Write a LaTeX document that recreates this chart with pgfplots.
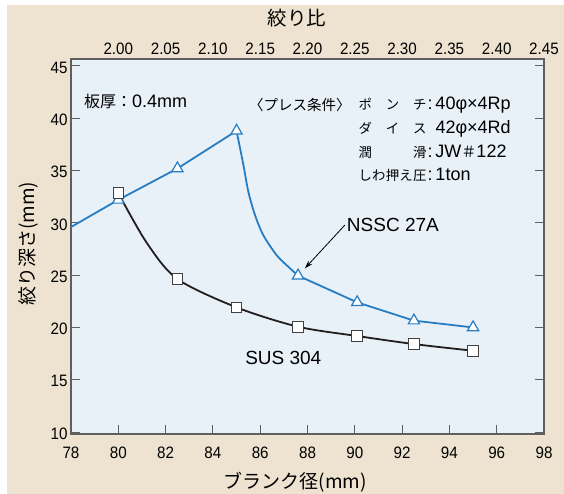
\documentclass[border=0pt]{standalone}
\usepackage{pgfplots}
\pgfplotsset{compat=1.18}
\usepackage{fontspec}
\usetikzlibrary{arrows.meta}
\setmainfont{Liberation Sans}
\newfontfamily\jp{Noto Sans CJK JP}
\newfontfamily\tickfont{Liberation Sans}[FakeStretch=0.92]
\definecolor{bgbeige}{RGB}{237,227,208}
\definecolor{plotbg}{RGB}{232,240,248}
\definecolor{nsblue}{RGB}{38,125,195}
\definecolor{axgray}{RGB}{95,95,95}
\definecolor{susblack}{RGB}{35,30,30}

\newcommand{\tabjp}{\jp\fontsize{13.4}{16}\selectfont}
\newcommand{\tablat}{\fontsize{18}{20}\selectfont}

\begin{document}
\begin{tikzpicture}[x=1pt,y=1pt]
\fill[white] (-71,-60) rectangle (493,434);
\fill[bgbeige] (-64,-60) rectangle (493,429);
\useasboundingbox (-71,-60) rectangle (493,434);

% top axis: drawing ratio
\begin{axis}[
  at={(0,0)}, anchor=south west,
  width=473pt, height=375pt, scale only axis,
  xmin=1.95, xmax=2.45, ymin=0, ymax=1,
  axis x line*=top, axis y line=none,
  axis line style={axgray, line width=1.2pt},
  tick style={axgray, line width=1pt},
  tick align=inside, major tick length=9pt,
  xtick={2.00,2.05,2.10,2.15,2.20,2.25,2.30,2.35,2.40,2.45},
  xticklabel style={font=\tickfont\fontsize{16.5}{18}\selectfont, yshift=1pt,
    /pgf/number format/.cd, fixed, fixed zerofill, precision=2},
  /pgf/number format/assume math mode=true,
  clip=false,
]
\addplot[draw=none] coordinates {(2.0,0.5)};
\node at (rel axis cs:0.478,1.109) {\jp\fontsize{19.5}{21}\selectfont 絞り比};
\end{axis}

% main axis
\begin{axis}[
  at={(0,0)}, anchor=south west,
  width=473pt, height=375pt, scale only axis,
  xmin=78, xmax=98, ymin=9.81, ymax=45.67,
  axis background/.style={fill=plotbg},
  axis line style={axgray, line width=1.2pt},
  tick style={axgray, line width=1pt},
  tick align=inside, major tick length=9pt,
  xtick={78,80,...,98}, ytick={10,15,...,45},
  xtick pos=bottom, ytick pos=both, yticklabel pos=left,
  ticklabel style={font=\tickfont\fontsize{16.5}{18}\selectfont},
  xticklabel style={yshift=-9pt},
  yticklabel style={yshift=-1.5pt},
  /pgf/number format/assume math mode=true,
  clip=false,
]
% NSSC 27A
\addplot[nsblue, line width=1.8pt] coordinates {(78,29.6) (80,32.2) (82.5,35.2) (85,38.8)};
\addplot[nsblue, line width=1.8pt, smooth, tension=0.5] coordinates {
  (85,38.8) (85.29,35.53) (85.5,32.97) (85.78,30.75) (86.13,28.83)
  (86.69,26.92) (87.19,25.8) (87.6,24.95)};
\addplot[nsblue, line width=1.8pt] coordinates {(87.6,24.95) (90.1,22.4) (92.5,20.65) (95,20.0)};
% SUS 304
\addplot[susblack, line width=1.8pt, smooth, tension=0.5] coordinates {
  (80,32.85) (81.2,28.1) (82.5,24.63) (85,21.92) (87.6,20.07)
  (90.1,19.18) (92.5,18.41) (95,17.77)};
% marks
\addplot[only marks, mark=triangle*, mark size=6.5pt,
  mark options={fill=white, draw=nsblue, line width=1.2pt}] coordinates {
  (80,32.2) (82.5,35.2) (85,38.8) (87.6,24.95) (90.1,22.4) (92.5,20.65) (95,20.0)};
\addplot[only marks, mark=square*, mark size=5.3pt,
  mark options={fill=white, draw=susblack!85, line width=1pt}] coordinates {
  (80,32.85) (82.5,24.63) (85,21.92) (87.6,20.07) (90.1,19.18) (92.5,18.41) (95,17.77)};

% annotations
\node[anchor=west, inner sep=0] at (rel axis cs:0.0275,0.888)
  {{\jp\fontsize{16}{18}\selectfont 板厚：}{\fontsize{18}{20}\selectfont 0.4mm}};
\node[anchor=west, inner sep=0] at (rel axis cs:0.376,0.877)
  {\jp\fontsize{14.5}{16}\selectfont 〈プレス条件〉};
\node[anchor=west, inner sep=0] at (rel axis cs:0.6074,0.876)
  {{\tabjp\makebox[68pt][s]{ポ\hfill ン\hfill チ}}\hspace{1pt}{\tablat :\hspace{3pt}40φ×4Rp}};
\node[anchor=west, inner sep=0] at (rel axis cs:0.6074,0.8147)
  {{\tabjp\makebox[68pt][s]{ダ\hfill イ\hfill ス}}\hspace{1pt}{\tablat \phantom{:}\hspace{3pt}42φ×4Rd}};
\node[anchor=west, inner sep=0] at (rel axis cs:0.6074,0.7533)
  {{\tabjp\makebox[68pt][s]{潤\hfill 滑}}\hspace{1pt}{\tablat :\hspace{3pt}JW{\jp\fontsize{15}{18}\selectfont ＃}122}};
\node[anchor=west, inner sep=0] at (rel axis cs:0.6074,0.692)
  {{\tabjp\makebox[68pt][s]{し\hfill わ\hfill 押\hfill え\hfill 圧}}\hspace{1pt}{\tablat :\hspace{3pt}1ton}};

\node[anchor=west, inner sep=0] at (rel axis cs:0.583,0.557)
  {\fontsize{19}{21}\selectfont NSSC 27A};
\draw[-{Stealth[length=8pt,width=5pt]}, line width=0.8pt]
  (axis cs:89.58,29.79) -- (axis cs:87.89,25.65);
\node[anchor=west, inner sep=0] at (rel axis cs:0.368,0.203)
  {\fontsize{19}{21}\selectfont SUS 304};

% axis titles
\node[rotate=90] at (rel axis cs:-0.091,0.507)
  {\jp\fontsize{19}{21}\selectfont 絞り深さ(mm)};
\node at (rel axis cs:0.4746,-0.128)
  {\jp\fontsize{19}{21}\selectfont ブランク径(mm)};
\end{axis}
\end{tikzpicture}
\end{document}
